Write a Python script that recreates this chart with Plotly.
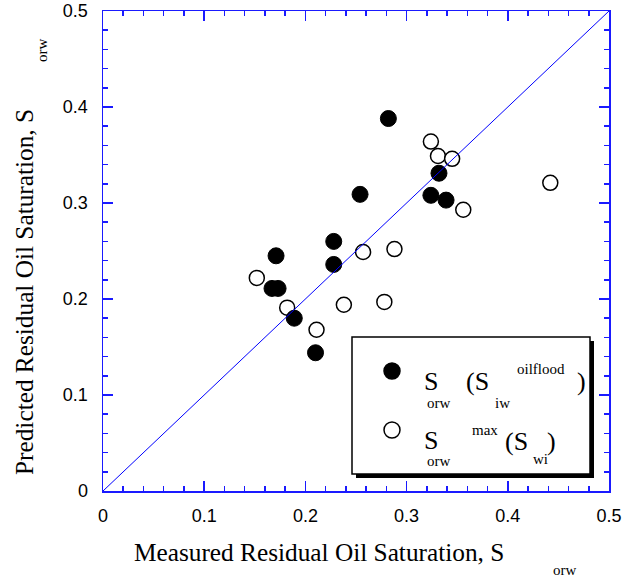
import plotly.graph_objects as go

# ---- data ----
filled_x = [0.282, 0.254, 0.228, 0.228, 0.171, 0.167, 0.173, 0.189, 0.210, 0.332, 0.324, 0.339]
filled_y = [0.388, 0.309, 0.260, 0.236, 0.245, 0.211, 0.211, 0.180, 0.144, 0.331, 0.308, 0.303]

open_x = [0.152, 0.182, 0.211, 0.238, 0.257, 0.288, 0.278, 0.324, 0.331, 0.345, 0.356, 0.442]
open_y = [0.222, 0.191, 0.168, 0.194, 0.249, 0.252, 0.197, 0.364, 0.349, 0.346, 0.293, 0.321]

diag = [0, 0.5]
tick_vals = [0, 0.1, 0.2, 0.3, 0.4, 0.5]
tick_text = ["0", "0.1", "0.2", "0.3", "0.4", "0.5"]

# ---- layout helpers (target pixel -> axis/paper) ----
L, R, T, B = 103, 609, 11, 491
def px_x(p): return (p - L) / (R - L) * 0.5
def px_y(p): return (B - p) / (B - T) * 0.5
def pp_x(p): return (p - L) / (R - L)
def pp_y(p): return (B - p) / (B - T)

BLUE = "#1a1aff"
SERIF = "Liberation Serif, Times New Roman, serif"
SANS = "Liberation Sans, Arial, sans-serif"

fig = go.Figure()
fig.add_trace(go.Scatter(x=open_x, y=open_y, mode="markers",
                         marker=dict(size=15, color="white", line=dict(color="black", width=1.5)),
                         showlegend=False))
fig.add_trace(go.Scatter(x=filled_x, y=filled_y, mode="markers",
                         marker=dict(size=16, color="black", line=dict(color="black", width=1)),
                         showlegend=False))
fig.add_trace(go.Scatter(x=diag, y=diag, mode="lines",
                         line=dict(color="#0000ff", width=1), showlegend=False))

axis_common = dict(range=[0, 0.5], tickvals=tick_vals, ticktext=tick_text,
                   ticks="inside", ticklen=10, tickwidth=1.5, tickcolor=BLUE,
                   showline=True, linecolor=BLUE, linewidth=1.5, mirror="ticks",
                   showgrid=False, zeroline=False, automargin=False,
                   ticklabeloverflow="allow",
                   minor=dict(dtick=0.02, ticks="inside", ticklen=5, tickwidth=1.5,
                              tickcolor=BLUE, showgrid=False),
                   tickfont=dict(family=SANS, size=18, color="black"))

fig.update_xaxes(**axis_common, ticklabelstandoff=8)
fig.update_yaxes(**axis_common, ticklabelstandoff=10)

shapes = []
shapes.append(dict(type="rect", xref="x", yref="y", layer="above",
                   x0=px_x(356), x1=px_x(594), y0=px_y(478), y1=px_y(341),
                   fillcolor="black", line=dict(width=0)))
shapes.append(dict(type="rect", xref="x", yref="y", layer="above",
                   x0=px_x(352), x1=px_x(590), y0=px_y(474), y1=px_y(337),
                   fillcolor="white", line=dict(color="black", width=1.5)))
for cy, fill in [(371, "black"), (430, "white")]:
    shapes.append(dict(type="circle", xref="x", yref="y", layer="above",
                       xsizemode="pixel", ysizemode="pixel",
                       xanchor=px_x(392), yanchor=px_y(cy),
                       x0=-8, x1=8, y0=-8, y1=8,
                       fillcolor=fill, line=dict(color="black", width=1.5)))

annotations = []
def ann(text, x, y, size, angle=0, family=SERIF):
    annotations.append(dict(text=text, xref="paper", yref="paper", x=pp_x(x), y=pp_y(y),
                            showarrow=False, textangle=angle,
                            font=dict(family=family, size=size, color="black"),
                            xanchor="center", yanchor="middle"))

ann("Measured Residual Oil Saturation, S", 319, 552, 25.3)
ann("orw", 564, 570, 15)
ann("Predicted Residual Oil Saturation, S", 24, 292, 25.3, angle=-90)
ann("orw", 42, 51, 15, angle=-90)

ann("S", 431, 381, 26)
ann("orw", 438, 403, 15)
ann("(S", 477, 381, 26)
ann("iw", 502, 403, 15)
ann("oilflood", 541, 369, 15)
ann(")", 581, 381, 26)
ann("S", 431, 440, 26)
ann("orw", 438, 461, 15)
ann("max", 485, 430, 15)
ann("(S", 516, 441, 26)
ann("wi", 540, 459, 15)
ann(")", 551, 441, 26)

fig.update_layout(width=625, height=583, autosize=False,
                  margin=dict(l=L, r=625 - R, t=T, b=583 - B, pad=0, autoexpand=False),
                  plot_bgcolor="white", paper_bgcolor="white",
                  shapes=shapes, annotations=annotations, showlegend=False)

fig.write_html("out.html", config={"displayModeBar": False, "staticPlot": True},
               post_script="document.body.style.margin='0px';document.body.style.overflow='hidden';")
